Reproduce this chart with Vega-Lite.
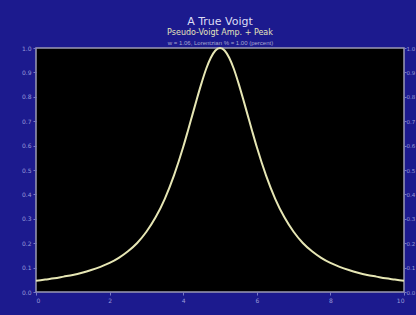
{
  "$schema": "https://vega.github.io/schema/vega-lite/v6.json",
  "width": 368,
  "height": 244,
  "autosize": {"type": "none"},
  "padding": {"left": 36, "top": 48, "right": 12, "bottom": 23},
  "background": "#1c1a8e",
  "title": {
    "text": "A True Voigt",
    "subtitle": "Pseudo-Voigt Amp. + Peak",
    "color": "#dcdcf4",
    "fontSize": 11,
    "font": "DejaVu Sans",
    "fontWeight": "normal",
    "subtitleColor": "#e4e4bc",
    "subtitleFont": "DejaVu Sans",
    "subtitleFontSize": 8,
    "subtitlePadding": 2,
    "offset": 2,
    "anchor": "middle"
  },
  "data": {
    "values": [
      {"x": 0, "y": 0.046}, {"x": 0.25, "y": 0.051}, {"x": 0.5, "y": 0.056}, {"x": 0.75, "y": 0.063},
      {"x": 1, "y": 0.070}, {"x": 1.25, "y": 0.079}, {"x": 1.5, "y": 0.090}, {"x": 1.75, "y": 0.103},
      {"x": 2, "y": 0.119}, {"x": 2.25, "y": 0.140}, {"x": 2.5, "y": 0.167}, {"x": 2.75, "y": 0.201},
      {"x": 3, "y": 0.247}, {"x": 3.25, "y": 0.306}, {"x": 3.5, "y": 0.382}, {"x": 3.75, "y": 0.478},
      {"x": 4, "y": 0.594}, {"x": 4.125, "y": 0.659}, {"x": 4.25, "y": 0.726}, {"x": 4.375, "y": 0.793},
      {"x": 4.5, "y": 0.857}, {"x": 4.625, "y": 0.915}, {"x": 4.75, "y": 0.960}, {"x": 4.875, "y": 0.990},
      {"x": 5, "y": 1.0},
      {"x": 5.125, "y": 0.990}, {"x": 5.25, "y": 0.960}, {"x": 5.375, "y": 0.915}, {"x": 5.5, "y": 0.857},
      {"x": 5.625, "y": 0.793}, {"x": 5.75, "y": 0.726}, {"x": 5.875, "y": 0.659}, {"x": 6, "y": 0.594},
      {"x": 6.25, "y": 0.478}, {"x": 6.5, "y": 0.382}, {"x": 6.75, "y": 0.306}, {"x": 7, "y": 0.247},
      {"x": 7.25, "y": 0.201}, {"x": 7.5, "y": 0.167}, {"x": 7.75, "y": 0.140}, {"x": 8, "y": 0.119},
      {"x": 8.25, "y": 0.103}, {"x": 8.5, "y": 0.090}, {"x": 8.75, "y": 0.079}, {"x": 9, "y": 0.070},
      {"x": 9.25, "y": 0.063}, {"x": 9.5, "y": 0.056}, {"x": 9.75, "y": 0.051}, {"x": 10, "y": 0.046}
    ]
  },
  "layer": [
    {
      "mark": {"type": "line", "color": "#e6e6b4", "strokeWidth": 2, "interpolate": "monotone"},
      "encoding": {
        "x": {"field": "x", "type": "quantitative", "scale": {"domain": [0, 10], "nice": false},
              "axis": {"values": [0, 2, 4, 6, 8, 10], "title": null, "orient": "bottom"}},
        "y": {"field": "y", "type": "quantitative", "scale": {"domain": [0, 1], "nice": false},
              "axis": {"values": [0, 0.1, 0.2, 0.3, 0.4, 0.5, 0.6, 0.7, 0.8, 0.9, 1], "format": ".1f", "title": null, "orient": "left"}}
      }
    },
    {
      "mark": {"type": "line", "opacity": 0},
      "encoding": {
        "x": {"field": "x", "type": "quantitative",
              "axis": {"orient": "top", "labels": false, "ticks": false, "domain": false,
                       "title": "w = 1.06,  Lorentzian % = 1.00 (percent)", "titleFontSize": 6,
                       "titleColor": "#a8a8d0", "titleFontWeight": "normal", "titlePadding": 3}},
        "y": {"field": "y", "type": "quantitative",
              "axis": {"orient": "right", "values": [0, 0.1, 0.2, 0.3, 0.4, 0.5, 0.6, 0.7, 0.8, 0.9, 1],
                       "format": ".1f", "title": null, "tickSize": 2, "labelPadding": 0, "labelFontSize": 5.5}}
      }
    }
  ],
  "resolve": {"axis": {"x": "independent", "y": "independent"}},
  "config": {
    "view": {"fill": "#000000", "stroke": "#9a9ab4", "strokeWidth": 1.5},
    "axis": {
      "grid": false,
      "domain": false,
      "tickColor": "#7a7ac4",
      "tickSize": 3,
      "labelColor": "#9a9ad8",
      "labelFontSize": 6,
      "labelFont": "DejaVu Sans",
      "labelPadding": 2
    }
  }
}
